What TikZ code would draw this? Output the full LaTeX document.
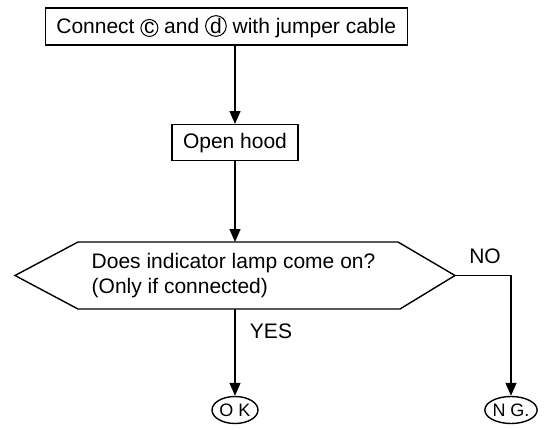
\documentclass[tikz,border=0pt]{standalone}
\usepackage{fontspec}
\setmainfont{Liberation Sans}
\usetikzlibrary{arrows.meta,shapes.geometric}
\newcommand\circled[1]{\tikz[baseline=(cl.base)]\node[draw,circle,line width=1pt,inner sep=0.5pt,minimum size=17pt](cl){#1};}
\begin{document}
\begin{tikzpicture}[x=1pt,y=-1pt,line width=1.4pt,
  font=\fontsize{21}{25}\selectfont,
  box/.style={draw,rectangle,inner sep=0pt},
  arr/.style={-{Triangle[width=11pt,length=13pt]}},
  term/.style={draw,ellipse,minimum width=46pt,minimum height=27pt,inner sep=0pt,font=\fontsize{18}{20}\selectfont},
  lbl/.style={inner sep=0pt}]
\useasboundingbox (0,0) rectangle (555,429);
\node[box,minimum width=362pt,minimum height=37pt,anchor=west] (top) at (45,26.5)
  {Connect~\circled{c}~and~\circled{d}~with jumper cable};
\node[box,minimum width=126pt,minimum height=36pt,anchor=north] (hood) at (235,124) {Open hood};
% decision hexagon
\coordinate (dl) at (15,275.5);
\coordinate (dr) at (455,275.5);
\coordinate (dt) at (235,242);
\coordinate (db) at (235,309);
\draw (dl) -- (78,242) -- (398,242) -- (dr) -- (400,309) -- (78,309) -- cycle;
\node[lbl,anchor=west,align=left] (q) at (91,276)
  {Does indicator lamp come on?\\(Only if connected)};
\node[term] (ok) at (235,410) {O K};
\node[term] (ng) at (511,410) {N G.};
\node[lbl] (no) at (485,256) {NO};
\node[lbl] (yes) at (271,331) {YES};
\draw[arr] (top.south -| hood.north) -- (hood.north);
\draw[arr] (hood.south) -- (dt);
\draw[arr] (db) -- (ok.north);
\draw[arr] (dr) -| (ng.north);
\end{tikzpicture}
\end{document}
